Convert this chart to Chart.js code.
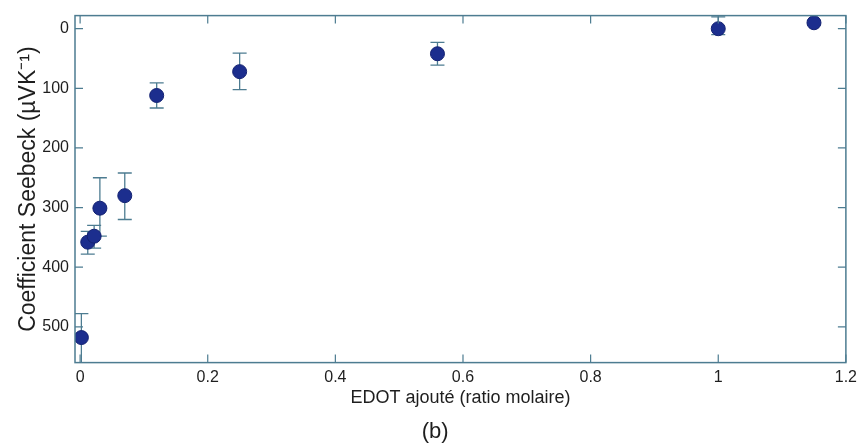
<!DOCTYPE html>
<html>
<head>
<meta charset="utf-8">
<script src="https://cdn.jsdelivr.net/npm/chart.js@4"></script>
<style>
  body { margin: 0; background: #fff; }
</style>
</head>
<body>
<canvas id="seebeck-chart" width="862" height="445"></canvas>
<script>
// EDOT added (molar ratio) vs Seebeck coefficient
var edot = [0.002, 0.012, 0.022, 0.031, 0.07, 0.12, 0.25, 0.56, 1.0, 1.15];
var seebeck = [518, 358, 348, 301, 280, 112, 72, 42, 0, -10];
var errUp = [40, 18, 18, 51, 38, 21, 31, 19, 20, 4];   // toward 0 (drawn upward)
var errDown = [45, 20, 20, 47, 40, 21, 30, 19, 10, 4];

var xTicks = [0, 0.2, 0.4, 0.6, 0.8, 1, 1.2];
var xTickLabels = ["0", "0.2", "0.4", "0.6", "0.8", "1", "1.2"];
var yTicks = [0, 100, 200, 300, 400, 500];
var yTickLabels = ["0", "100", "200", "300", "400", "500"];

var axisColor = "#4d7c91";
var textColor = "#1e1e1e";

var errorBars = {
  id: 'errorBars',
  beforeDatasetsDraw: function(chart) {
    var ctx = chart.ctx, x = chart.scales.x, y = chart.scales.y, a = chart.chartArea;
    ctx.save();
    ctx.beginPath();
    ctx.rect(a.left, a.top, a.right - a.left, a.bottom - a.top);
    ctx.clip();
    ctx.strokeStyle = axisColor;
    ctx.lineWidth = 1.3;
    for (var i = 0; i < edot.length; i++) {
      var px = x.getPixelForValue(edot[i]);
      var top = y.getPixelForValue(seebeck[i] - errUp[i]);
      var bot = y.getPixelForValue(seebeck[i] + errDown[i]);
      ctx.beginPath();
      ctx.moveTo(px, top); ctx.lineTo(px, bot);
      ctx.moveTo(px - 7, top); ctx.lineTo(px + 7, top);
      ctx.moveTo(px - 7, bot); ctx.lineTo(px + 7, bot);
      ctx.stroke();
    }
    ctx.restore();
  }
};

var frame = {
  id: 'frame',
  afterDraw: function(chart) {
    var ctx = chart.ctx, x = chart.scales.x, y = chart.scales.y, a = chart.chartArea;
    ctx.save();
    ctx.strokeStyle = axisColor;
    ctx.lineWidth = 1.5;
    ctx.strokeRect(a.left, a.top, a.right - a.left, a.bottom - a.top);
    ctx.lineWidth = 1.2;
    ctx.beginPath();
    xTicks.forEach(function(v) {
      var px = x.getPixelForValue(v);
      ctx.moveTo(px, a.bottom); ctx.lineTo(px, a.bottom - 8);
      ctx.moveTo(px, a.top); ctx.lineTo(px, a.top + 8);
    });
    yTicks.forEach(function(v) {
      var py = y.getPixelForValue(v);
      ctx.moveTo(a.left, py); ctx.lineTo(a.left + 8, py);
      ctx.moveTo(a.right, py); ctx.lineTo(a.right - 8, py);
    });
    ctx.stroke();
    ctx.restore();
  }
};

new Chart(document.getElementById("seebeck-chart"), {
  type: 'scatter',
  data: {
    datasets: [{
      label: "Seebeck",
      data: edot.map(function(v, i) { return {x: v, y: seebeck[i]}; }),
      backgroundColor: "#1c2e8e",
      borderColor: "#142272",
      borderWidth: 1,
      pointRadius: 7,
      pointHoverRadius: 7
    }]
  },
  options: {
    responsive: false,
    animation: false,
    layout: { padding: { top: 14, right: 16, left: 0, bottom: 0 } },
    plugins: {
      legend: { display: false },
      tooltip: { enabled: false },
      title: {
        display: true,
        position: 'bottom',
        text: '    (b)',
        color: textColor,
        font: { family: 'Liberation Sans', size: 22, weight: 'normal' },
        padding: { top: 0, bottom: 0 }
      }
    },
    scales: {
      x: {
        type: 'linear',
        min: -0.008,
        max: 1.2,
        afterBuildTicks: function(scale) {
          scale.ticks = xTicks.map(function(v) { return {value: v}; });
        },
        afterFit: function(scale) { scale.height = 56; },
        grid: { display: false, drawTicks: false },
        border: { display: false },
        ticks: {
          autoSkip: false,
          maxRotation: 0,
          padding: 5,
          color: textColor,
          font: { family: 'Liberation Sans', size: 16 },
          callback: function(value, index) { return xTickLabels[index]; }
        },
        title: {
          display: true,
          text: 'EDOT ajouté (ratio molaire)',
          color: textColor,
          font: { family: 'Liberation Sans', size: 18 },
          padding: { top: 0, bottom: 10 }
        }
      },
      y: {
        type: 'linear',
        reverse: true,
        min: -22,
        max: 560,
        afterBuildTicks: function(scale) {
          scale.ticks = yTicks.map(function(v) { return {value: v}; });
        },
        afterFit: function(scale) { scale.width = 75; },
        grid: { display: false, drawTicks: false },
        border: { display: false },
        ticks: {
          autoSkip: false,
          padding: 6,
          color: textColor,
          font: { family: 'Liberation Sans', size: 16 },
          callback: function(value, index) { return yTickLabels[index]; }
        },
        title: {
          display: true,
          text: 'Coefficient Seebeck (µVK⁻¹)',
          color: textColor,
          font: { family: 'Liberation Sans', size: 23 },
          padding: { top: 15, bottom: 0 }
        }
      }
    }
  },
  plugins: [errorBars, frame]
});
</script>
</body>
</html>
